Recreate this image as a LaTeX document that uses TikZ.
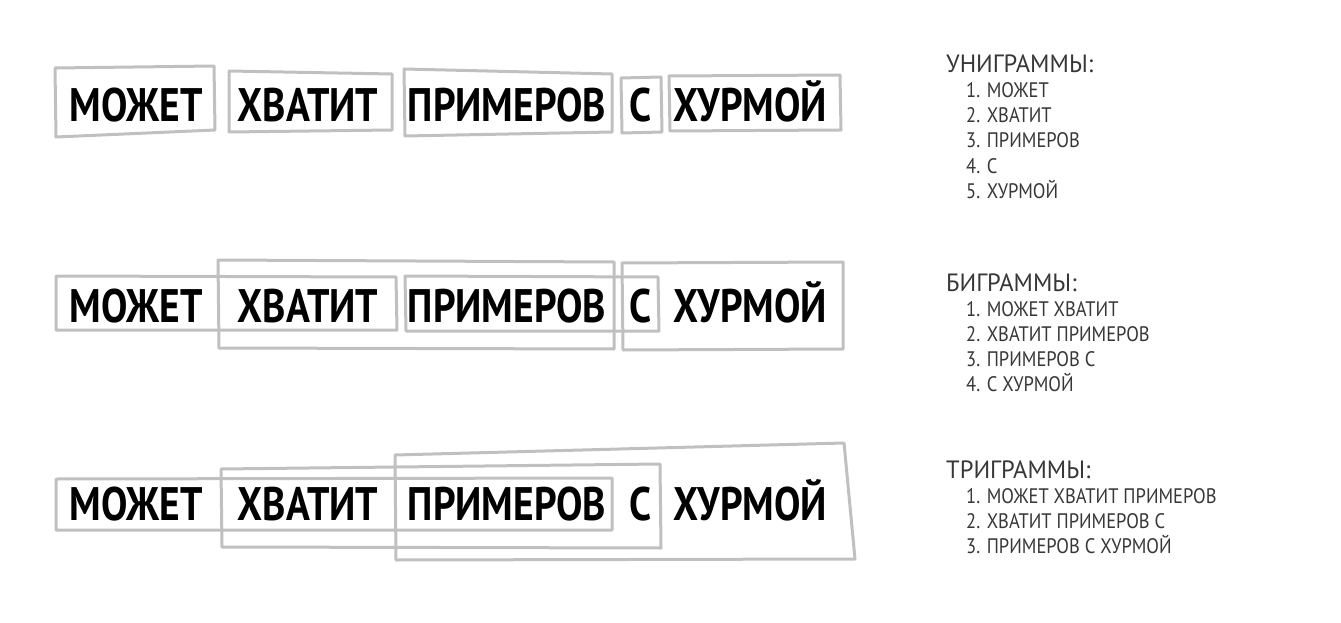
\documentclass[tikz,border=0pt]{standalone}
\usepackage{fontspec}
\setmainfont{PT Sans}
\newfontfamily\wordfont[FakeStretch=0.84]{PT Sans}
\newfontfamily\listfont[FakeStretch=0.88]{PT Sans}
\newfontfamily\headfont[FakeStretch=0.98]{PT Sans}
\definecolor{boxgray}{RGB}{192,192,192}
\definecolor{listgray}{RGB}{55,55,55}
\tikzset{
  word/.style={anchor=base, inner sep=0pt, font=\wordfont\bfseries\fontsize{47}{47}\selectfont},
  gbox/.style={draw=boxgray, line width=3pt, line join=round},
  gramhead/.style={anchor=base west, inner sep=0pt, text=listgray, font=\headfont\fontsize{25}{25}\selectfont},
  gramitem/.style={anchor=base west, inner sep=0pt, text=listgray, font=\listfont\fontsize{21}{21}\selectfont}
}
\begin{document}
\begin{tikzpicture}[x=1pt, y=-1pt]
    \useasboundingbox (0,0) rectangle (1341,623);
    % the three sentences
    \foreach \r/\y in {uni/122, bi/322, tri/520}
    \foreach \t/\x [count=\i] in {МОЖЕТ/136, ХВАТИТ/308, ПРИМЕРОВ/507, С/641, ХУРМОЙ/750}
    \node[word] (\r\i) at (\x,\y) {\t};
    % unigrams
    \draw[gbox] (55,68) -- (214,66) -- (215,130) -- (56,137) -- cycle;
    \draw[gbox] (229,71) -- (392,74) -- (392,130) -- (229,132) -- cycle;
    \draw[gbox] (404,69) -- (612,74) -- (612,132) -- (405,136) -- cycle;
    \draw[gbox] (621,78) -- (661,77) -- (662,132) -- (622,133) -- cycle;
    \draw[gbox] (669,76) -- (840,75) -- (841,130) -- (670,131) -- cycle;
    % bigrams
    \draw[gbox] (56,276) -- (396,277) -- (397,330) -- (56,330) -- cycle;
    \draw[gbox] (218,260) -- (614,262) -- (614,349) -- (219,348) -- cycle;
    \draw[gbox] (405,276) -- (658,277) -- (659,331) -- (406,331) -- cycle;
    \draw[gbox] (622,263) -- (843,262) -- (843,349) -- (623,350) -- cycle;
    % trigrams
    \draw[gbox] (56,479) -- (612,478) -- (612,530) -- (56,530) -- cycle;
    \draw[gbox] (221,469) -- (660,464) -- (661,548) -- (222,547) -- cycle;
    \draw[gbox] (395,455) -- (844,443) -- (855,559) -- (396,560) -- cycle;
    % lists
    \node[gramhead] (unihead) at (946,73) {УНИГРАММЫ:};
    \foreach \t [count=\i] in {МОЖЕТ, ХВАТИТ, ПРИМЕРОВ, С, ХУРМОЙ}
    \node[gramitem] (uniitem\i) at (966,73+25*\i) {\i. \t};
    \node[gramhead] (bihead) at (946,291) {БИГРАММЫ:};
    \foreach \t [count=\i] in {МОЖЕТ ХВАТИТ, ХВАТИТ ПРИМЕРОВ, ПРИМЕРОВ С, С ХУРМОЙ}
    \node[gramitem] (biitem\i) at (966,291+25*\i) {\i. \t};
    \node[gramhead] (trihead) at (946,478) {ТРИГРАММЫ:};
    \foreach \t [count=\i] in {МОЖЕТ ХВАТИТ ПРИМЕРОВ, ХВАТИТ ПРИМЕРОВ С, ПРИМЕРОВ С ХУРМОЙ}
    \node[gramitem] (triitem\i) at (966,478+25*\i) {\i. \t};
\end{tikzpicture}
\end{document}
